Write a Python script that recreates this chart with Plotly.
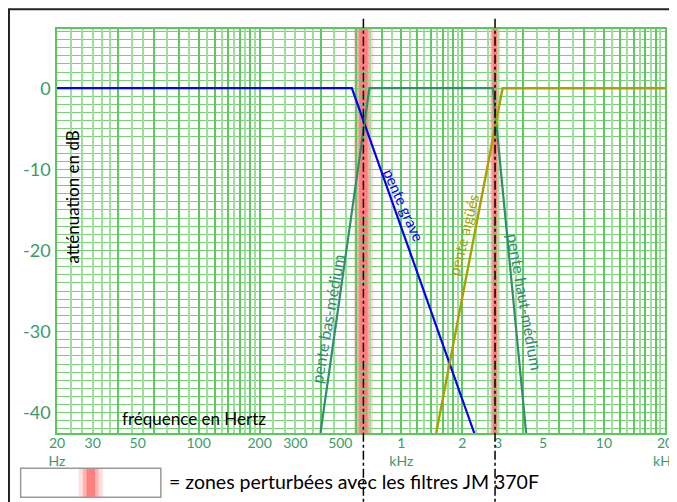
import numpy as np
import plotly.graph_objects as go

# ---- data ----
grave_f = [20, 570, 2290]
grave_db = [0, 0, -42.5]

medium_f = [399, 696, 2830, 4130]
medium_db = [-42.5, 0, 0, -42.5]

aigu_f = [1486, 3160, 20000]
aigu_db = [-42.5, 0, 0]

cross_f = [650, 2900]          # crossover frequencies (dash-dot lines)
band_half = [0.035, 0.02]      # half width of disturbed zones (log10 units)

xtick_vals = [20, 30, 50, 100, 200, 300, 500, 1000, 2000, 3000, 5000, 10000, 20000]
xtick_text = ["20<br>Hz", "30", "50", "100", "200", "300", "500", "1<br>kHz", "2", "3", "5", "10", "20<br>kHz"]
ytick_vals = [0, -10, -20, -30, -40]
ytick_text = ["0", "-10", "-20", "-30", "-40"]

# log paper grid pattern (per decade multipliers)
paper_m = [1, 7/6, 4/3, 1.5, 5/3, 11/6, 2, 7/3, 8/3, 3, 3.5, 4, 4.5, 5, 5.5, 6, 6.5, 7, 7.5, 8, 8.5, 9, 9.5]

GREEN_TXT = "#3a9a6a"
GREEN_CURVE = "#2f8f68"
OLIVE = "#aaa000"
BLUE = "#0000ff"
FONT = "Lato"

grid_major, grid_minor = [], []
for d in range(3):
    for m in paper_m:
        f = 20 * 10 ** d * m
        (grid_major if abs(m - round(m)) < 1e-9 else grid_minor).append(f)
grid_major.append(20000)

fig = go.Figure()

fig.add_trace(go.Scatter(x=grave_f, y=grave_db, mode="lines",
                         line=dict(color=BLUE, width=2.2), showlegend=False, hoverinfo="skip"))
fig.add_trace(go.Scatter(x=medium_f, y=medium_db, mode="lines",
                         line=dict(color=GREEN_CURVE, width=2.2), showlegend=False, hoverinfo="skip"))
fig.add_trace(go.Scatter(x=aigu_f, y=aigu_db, mode="lines",
                         line=dict(color=OLIVE, width=2.4), showlegend=False, hoverinfo="skip"))
# dummy trace for the grid axis
fig.add_trace(go.Scatter(x=[20, 20000], y=[0, 0], xaxis="x2", mode="lines",
                         line=dict(width=0), opacity=0, showlegend=False, hoverinfo="skip"))

shapes = []
# disturbed zones (soft red bands)
for f, hw in zip(cross_f, band_half):
    c = np.log10(f)
    for k, op in [(1.35, 0.17), (1.0, 0.27), (0.6, 0.37)]:
        shapes.append(dict(type="rect", xref="x", yref="paper",
                           x0=10 ** (c - hw * k), x1=10 ** (c + hw * k), y0=0, y1=1,
                           fillcolor="#ff3030", opacity=op, line=dict(width=0), layer="below"))
# dash-dot crossover lines extending beyond plot
for f in cross_f:
    shapes.append(dict(type="line", xref="x", yref="paper", x0=f, x1=f, y0=-0.2, y1=1.027,
                       line=dict(color="black", width=1.5, dash="dashdot"), layer="above"))
# outer black frame
shapes.append(dict(type="rect", xref="paper", yref="paper", x0=-0.079, x1=1.2, y0=-0.4, y1=1.049,
                   line=dict(color="#222222", width=2), fillcolor="rgba(0,0,0,0)", layer="above"))
# legend box
shapes.append(dict(type="rect", xref="paper", yref="paper", x0=-0.0598, x1=0.1708, y0=-0.159, y1=-0.0874,
                   line=dict(color="#999999", width=1.5), fillcolor="white", layer="above"))
lc = 0.0555
for hw, op in [(0.02, 0.15), (0.013, 0.25), (0.007, 0.4)]:
    shapes.append(dict(type="rect", xref="paper", yref="paper", x0=lc - hw, x1=lc + hw,
                       y0=-0.1575, y1=-0.089, fillcolor="#ff3030", opacity=op,
                       line=dict(width=0), layer="above"))

annotations = [
    dict(text="= zones perturbées avec les filtres JM 370F", xref="paper", yref="paper",
         x=0.181, y=-0.121, xanchor="left", yanchor="middle", showarrow=False,
         font=dict(family=FONT, size=19.5, color="black")),
    dict(text="fréquence en Hertz", xref="paper", yref="paper", x=0.2256, y=0.037,
         xanchor="center", yanchor="middle", showarrow=False,
         font=dict(family=FONT, size=17, color="black")),
    dict(text="atténuation en dB", xref="paper", yref="paper", x=0.0255, y=0.584,
         xanchor="center", yanchor="middle", textangle=-90, showarrow=False,
         font=dict(family=FONT, size=17, color="black")),
    dict(text="pente grave", x=np.log10(1030), y=-14.4, textangle=66, showarrow=False,
         font=dict(family=FONT, size=15, color=BLUE)),
    dict(text="pente aigüés", x=np.log10(2026), y=-18.1, textangle=-76, showarrow=False,
         font=dict(family=FONT, size=15, color=OLIVE)),
    dict(text="pente bas-médium", x=np.log10(432), y=-28.4, textangle=-80, showarrow=False,
         font=dict(family=FONT, size=16, color=GREEN_CURVE)),
    dict(text="pente haut-médium", x=np.log10(4072), y=-26.3, textangle=80, showarrow=False,
         font=dict(family=FONT, size=16, color=GREEN_CURVE)),
]

xr = [np.log10(20), np.log10(20000)]
fig.update_layout(
    width=677, height=502,
    margin=dict(l=49, r=20, t=21, b=77, autoexpand=False),
    paper_bgcolor="white", plot_bgcolor="white",
    showlegend=False,
    shapes=shapes, annotations=annotations,
    xaxis=dict(type="log", range=xr, tickmode="array", tickvals=xtick_vals, ticktext=xtick_text,
               showgrid=False, ticks="", tickfont=dict(family=FONT, size=14, color=GREEN_TXT),
               automargin=False, ticklabelstandoff=-4,
               showline=True, linecolor="#5cc85c", linewidth=1.5, mirror=True, zeroline=False),
    xaxis2=dict(type="log", range=xr, overlaying="x", tickmode="array", tickvals=grid_major,
                showticklabels=False, ticks="", showgrid=True, gridcolor="#5ec95e", gridwidth=1.5,
                minor=dict(tickmode="array", tickvals=grid_minor, showgrid=True,
                           gridcolor="#9edf9e", gridwidth=1.5, ticks=""),
                automargin=False, showline=False, zeroline=False),
    yaxis=dict(range=[-42.5, 7.3], tickmode="array", tickvals=ytick_vals, ticktext=ytick_text,
               showgrid=True, gridcolor="#74d174", gridwidth=1.4, ticks="",
               minor=dict(tickmode="linear", tick0=0, dtick=1, showgrid=True,
                          gridcolor="#74d174", gridwidth=1.4, ticks=""),
               tickfont=dict(family=FONT, size=18, color=GREEN_TXT), ticklabelstandoff=1,
               automargin=False,
               showline=True, linecolor="#5cc85c", linewidth=1.5, mirror=True, zeroline=False),
)

fig.write_html("out.html")
